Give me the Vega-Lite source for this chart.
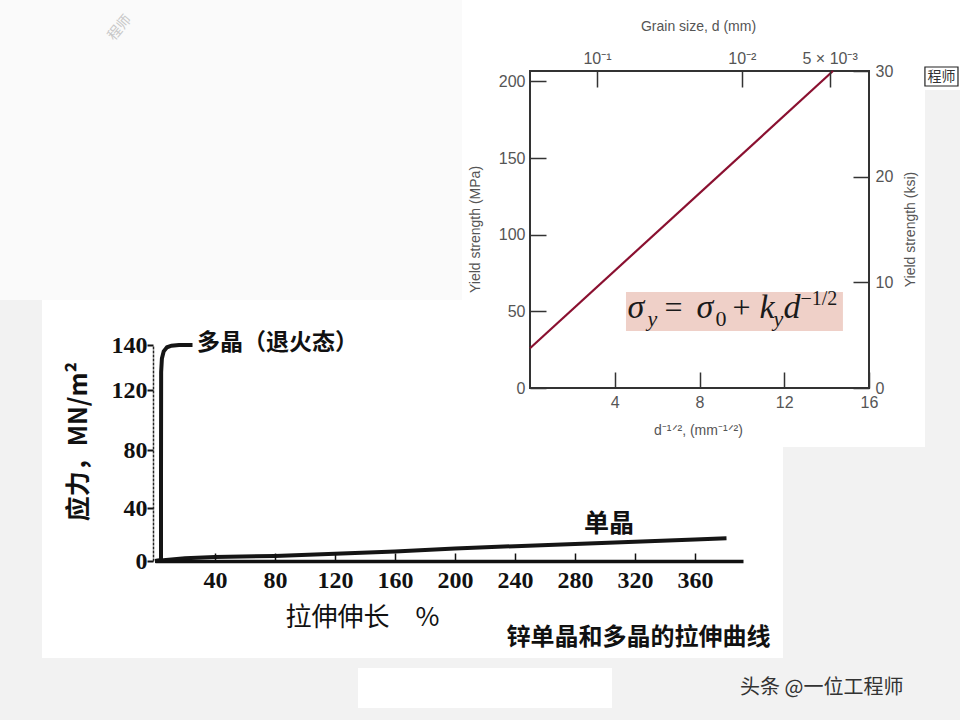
{
  "$schema": "https://vega.github.io/schema/vega-lite/v6.json",
  "width": 960,
  "height": 720,
  "autosize": {"type": "none"},
  "padding": 0,
  "background": "#f2f2f2",
  "data": {"values": [{}]},
  "config": {
    "view": {"stroke": null},
    "axis": {"grid": false, "labelOverlap": false, "labelFlush": false}
  },
  "resolve": {
    "scale": {"x": "independent", "y": "independent"},
    "axis": {"x": "independent", "y": "independent"}
  },
  "layer": [
    {
      "mark": {"type": "rect", "color": "#fafafa"},
      "encoding": {
        "x": {"datum": -103.33, "type": "quantitative", "scale": {"domain": [0, 392], "range": [155, 743], "nice": false, "zero": false}, "axis": null},
        "x2": {"datum": 204.67},
        "y": {"datum": 293.33, "type": "quantitative", "scale": {"domain": [0, 40, 80, 120, 140], "range": [561, 508, 450, 390, 345], "nice": false, "zero": false}, "axis": null},
        "y2": {"datum": 160}
      }
    },
    {
      "mark": {"type": "rect", "color": "#ffffff"},
      "encoding": {
        "x": {"datum": 18.64, "type": "quantitative", "scale": {"domain": [0, 16], "range": [530, 869], "nice": false, "zero": false}, "axis": null},
        "x2": {"datum": 20.3},
        "y": {"datum": 253.17, "type": "quantitative", "scale": {"domain": [0, 206.84], "range": [388, 71], "nice": false, "zero": false}, "axis": null},
        "y2": {"datum": 194.44}
      }
    },
    {
      "mark": {"type": "rect", "color": "#ffffff"},
      "encoding": {
        "x": {"datum": -75.33, "type": "quantitative", "scale": {"domain": [0, 392], "range": [155, 743], "nice": false, "zero": false}, "axis": null},
        "x2": {"datum": 418.67},
        "y": {"datum": 160, "type": "quantitative", "scale": {"domain": [0, 40, 80, 120, 140], "range": [561, 508, 450, 390, 345], "nice": false, "zero": false}, "axis": null},
        "y2": {"datum": -73.2}
      }
    },
    {
      "mark": {"type": "rect", "color": "#ffffff"},
      "encoding": {
        "x": {"datum": -3.21, "type": "quantitative", "scale": {"domain": [0, 16], "range": [530, 869], "nice": false, "zero": false}, "axis": null},
        "x2": {"datum": 18.64},
        "y": {"datum": 253.17, "type": "quantitative", "scale": {"domain": [0, 206.84], "range": [388, 71], "nice": false, "zero": false}, "axis": null},
        "y2": {"datum": -38.5}
      }
    },
    {
      "mark": {"type": "rect", "color": "#ffffff"},
      "encoding": {
        "x": {"datum": 135.33, "type": "quantitative", "scale": {"domain": [0, 392], "range": [155, 743], "nice": false, "zero": false}, "axis": null},
        "x2": {"datum": 304.67},
        "y": {"datum": -80.75, "type": "quantitative", "scale": {"domain": [0, 40, 80, 120, 140], "range": [561, 508, 450, 390, 345], "nice": false, "zero": false}, "axis": null},
        "y2": {"datum": -110.94}
      }
    },
    {
      "mark": {"type": "text", "align": "left", "baseline": "middle", "font": "Noto Sans CJK SC", "fontSize": 20, "color": "#333333"},
      "encoding": {
        "x": {"datum": 390, "type": "quantitative", "scale": {"domain": [0, 392], "range": [155, 743], "nice": false, "zero": false}, "axis": null},
        "y": {"datum": -95.85, "type": "quantitative", "scale": {"domain": [0, 40, 80, 120, 140], "range": [561, 508, 450, 390, 345], "nice": false, "zero": false}, "axis": null},
        "text": {"value": "头条 @一位工程师"}
      }
    },
    {
      "mark": {"type": "rect", "fill": null, "stroke": "#222222", "strokeWidth": 1.2},
      "encoding": {
        "x": {"datum": 18.64, "type": "quantitative", "scale": {"domain": [0, 16], "range": [530, 869], "nice": false, "zero": false}, "axis": null},
        "x2": {"datum": 20.2},
        "y": {"datum": 209.45, "type": "quantitative", "scale": {"domain": [0, 206.84], "range": [388, 71], "nice": false, "zero": false}, "axis": null},
        "y2": {"datum": 197.06}
      }
    },
    {
      "mark": {"type": "text", "align": "center", "baseline": "middle", "font": "Noto Sans CJK SC", "fontSize": 14, "color": "#333333"},
      "encoding": {
        "x": {"datum": 19.42, "type": "quantitative", "scale": {"domain": [0, 16], "range": [530, 869], "nice": false, "zero": false}, "axis": null},
        "y": {"datum": 203.25, "type": "quantitative", "scale": {"domain": [0, 206.84], "range": [388, 71], "nice": false, "zero": false}, "axis": null},
        "text": {"value": "程师"}
      }
    },
    {
      "mark": {"type": "text", "align": "center", "baseline": "middle", "angle": 310, "font": "Noto Sans CJK SC", "fontSize": 14, "color": "#c8c8c8"},
      "encoding": {
        "x": {"datum": -23.33, "type": "quantitative", "scale": {"domain": [0, 392], "range": [155, 743], "nice": false, "zero": false}, "axis": null},
        "y": {"datum": 280.9, "type": "quantitative", "scale": {"domain": [0, 40, 80, 120, 140], "range": [561, 508, 450, 390, 345], "nice": false, "zero": false}, "axis": null},
        "text": {"value": "程师"}
      }
    },
    {
      "data": {"values": [
        {"elongation_pct": 0, "stress_mpa": 0},
        {"elongation_pct": 20, "stress_mpa": 2},
        {"elongation_pct": 40, "stress_mpa": 3},
        {"elongation_pct": 80, "stress_mpa": 3.8},
        {"elongation_pct": 120, "stress_mpa": 5.5},
        {"elongation_pct": 160, "stress_mpa": 7.2},
        {"elongation_pct": 200, "stress_mpa": 9.5},
        {"elongation_pct": 240, "stress_mpa": 11.2},
        {"elongation_pct": 280, "stress_mpa": 12.8},
        {"elongation_pct": 320, "stress_mpa": 14.6},
        {"elongation_pct": 360, "stress_mpa": 16.3},
        {"elongation_pct": 381, "stress_mpa": 17.1}
      ]},
      "mark": {"type": "line", "color": "#151515", "strokeWidth": 4},
      "encoding": {
        "x": {
          "field": "elongation_pct", "type": "quantitative",
          "scale": {"domain": [0, 392], "range": [155, 743], "nice": false, "zero": false},
          "axis": {
            "orient": "bottom", "offset": -159, "zindex": 1,
            "values": [40, 80, 120, 160, 200, 240, 280, 320, 360],
            "domainColor": "#111111", "domainWidth": 3.5,
            "tickColor": "#111111", "tickWidth": 1.5, "tickSize": -8,
            "labelPadding": 15, "labelFont": "Liberation Serif", "labelFontWeight": "bold", "labelFontSize": 24, "labelColor": "#111111",
            "title": "拉伸伸长　%", "titleFont": "Noto Sans CJK SC", "titleFontWeight": "normal", "titleFontSize": 26, "titleColor": "#111111",
            "titleX": 362, "titleY": 56, "titleBaseline": "middle", "titleAlign": "center"
          }
        },
        "y": {
          "field": "stress_mpa", "type": "quantitative",
          "scale": {"domain": [0, 40, 80, 120, 140], "range": [561, 508, 450, 390, 345], "nice": false, "zero": false},
          "axis": {
            "orient": "left", "offset": -153, "zindex": 1,
            "values": [0, 40, 80, 120, 140],
            "domainColor": "#222222", "domainWidth": 1.5, "domainDash": [3, 1],
            "tickColor": "#111111", "tickWidth": 2, "tickSize": 6,
            "labelPadding": 0, "labelFont": "Liberation Serif", "labelFontWeight": "bold", "labelFontSize": 24, "labelColor": "#111111",
            "title": "应力，MN/m²", "titleFont": "Noto Sans CJK SC", "titleFontWeight": "bold", "titleFontSize": 25, "titleColor": "#111111",
            "titleX": -75, "titleY": 441, "titleAngle": 270, "titleBaseline": "middle", "titleAlign": "center"
          }
        }
      }
    },
    {
      "data": {"values": [
        {"elongation_pct": 0, "stress_mpa": 0},
        {"elongation_pct": 4, "stress_mpa": 0.5},
        {"elongation_pct": 4, "stress_mpa": 60},
        {"elongation_pct": 4.1, "stress_mpa": 128},
        {"elongation_pct": 4.6, "stress_mpa": 134},
        {"elongation_pct": 5.8, "stress_mpa": 137.2},
        {"elongation_pct": 8, "stress_mpa": 139},
        {"elongation_pct": 11, "stress_mpa": 139.7},
        {"elongation_pct": 16, "stress_mpa": 140},
        {"elongation_pct": 25, "stress_mpa": 140}
      ]},
      "mark": {"type": "line", "color": "#151515", "strokeWidth": 4},
      "encoding": {
        "x": {"field": "elongation_pct", "type": "quantitative", "scale": {"domain": [0, 392], "range": [155, 743], "nice": false, "zero": false}, "axis": null},
        "y": {"field": "stress_mpa", "type": "quantitative", "scale": {"domain": [0, 40, 80, 120, 140], "range": [561, 508, 450, 390, 345], "nice": false, "zero": false}, "axis": null}
      }
    },
    {
      "mark": {"type": "text", "align": "center", "baseline": "middle", "font": "Noto Sans CJK SC", "fontWeight": "bold", "fontSize": 25, "color": "#111111"},
      "encoding": {
        "x": {"datum": 302.67, "type": "quantitative", "scale": {"domain": [0, 392], "range": [155, 743], "nice": false, "zero": false}, "axis": null},
        "y": {"datum": 27.9, "type": "quantitative", "scale": {"domain": [0, 40, 80, 120, 140], "range": [561, 508, 450, 390, 345], "nice": false, "zero": false}, "axis": null},
        "text": {"value": "单晶"}
      }
    },
    {
      "mark": {"type": "text", "align": "left", "baseline": "middle", "font": "Noto Sans CJK SC", "fontWeight": "bold", "fontSize": 23, "color": "#111111"},
      "encoding": {
        "x": {"datum": 28, "type": "quantitative", "scale": {"domain": [0, 392], "range": [155, 743], "nice": false, "zero": false}, "axis": null},
        "y": {"datum": 140.9, "type": "quantitative", "scale": {"domain": [0, 40, 80, 120, 140], "range": [561, 508, 450, 390, 345], "nice": false, "zero": false}, "axis": null},
        "text": {"value": "多晶（退火态）"}
      }
    },
    {
      "mark": {"type": "text", "align": "center", "baseline": "middle", "font": "Noto Sans CJK SC", "fontWeight": "bold", "fontSize": 24, "color": "#111111"},
      "encoding": {
        "x": {"datum": 322.33, "type": "quantitative", "scale": {"domain": [0, 392], "range": [155, 743], "nice": false, "zero": false}, "axis": null},
        "y": {"datum": -58.1, "type": "quantitative", "scale": {"domain": [0, 40, 80, 120, 140], "range": [561, 508, 450, 390, 345], "nice": false, "zero": false}, "axis": null},
        "text": {"value": "锌单晶和多晶的拉伸曲线"}
      }
    },
    {
      "mark": {"type": "rect", "fill": null, "stroke": "#333333", "strokeWidth": 2},
      "encoding": {
        "x": {"datum": 0, "type": "quantitative", "scale": {"domain": [0, 16], "range": [530, 869], "nice": false, "zero": false}, "axis": null},
        "x2": {"datum": 16},
        "y": {"datum": 0, "type": "quantitative", "scale": {"domain": [0, 206.84], "range": [388, 71], "nice": false, "zero": false}, "axis": null},
        "y2": {"datum": 206.84}
      }
    },
    {
      "data": {"values": [
        {"d_inv_sqrt": 0, "yield_mpa": 25.9},
        {"d_inv_sqrt": 14.3, "yield_mpa": 206.8}
      ]},
      "mark": {"type": "line", "color": "#8a1030", "strokeWidth": 2.2},
      "encoding": {
        "x": {
          "field": "d_inv_sqrt", "type": "quantitative",
          "scale": {"domain": [0, 16], "range": [530, 869], "nice": false, "zero": false},
          "axis": {
            "orient": "bottom", "offset": -332, "zindex": 1, "values": [4, 8, 12, 16], "domain": false,
            "tickColor": "#333333", "tickWidth": 1.5, "tickSize": -16,
            "labelPadding": 22, "labelFont": "Liberation Sans", "labelFontSize": 16, "labelColor": "#555555",
            "title": "d⁻¹ᐟ², (mm⁻¹ᐟ²)", "titleFont": "Liberation Sans", "titleFontWeight": "normal", "titleFontSize": 14, "titleColor": "#555555",
            "titleX": 698, "titleY": 42, "titleBaseline": "middle", "titleAlign": "center"
          }
        },
        "y": {
          "field": "yield_mpa", "type": "quantitative",
          "scale": {"domain": [0, 206.84], "range": [388, 71], "nice": false, "zero": false},
          "axis": {
            "orient": "left", "offset": -530, "zindex": 1, "values": [0, 50, 100, 150, 200], "domain": false,
            "tickColor": "#333333", "tickWidth": 1.5, "tickSize": -16,
            "labelPadding": 21, "labelFont": "Liberation Sans", "labelFontSize": 16, "labelColor": "#555555",
            "title": "Yield strength (MPa)", "titleFont": "Liberation Sans", "titleFontWeight": "normal", "titleFontSize": 14, "titleColor": "#555555",
            "titleX": -55, "titleY": 229, "titleAngle": 270, "titleBaseline": "middle", "titleAlign": "center"
          }
        }
      }
    },
    {
      "mark": {"type": "rule", "strokeOpacity": 0},
      "encoding": {
        "x": {
          "datum": 0.1, "type": "quantitative",
          "scale": {"type": "pow", "exponent": -0.5, "domain": [1, 0.00390625], "range": [551.1875, 869], "nice": false, "zero": false},
          "axis": {
            "orient": "top", "offset": -71, "zindex": 1, "values": [0.1, 0.01, 0.005], "domain": false,
            "labelExpr": "datum.value > 0.05 ? '10⁻¹' : datum.value > 0.007 ? '10⁻²' : '5 × 10⁻³'",
            "tickColor": "#333333", "tickWidth": 1.5, "tickSize": -16,
            "labelPadding": 21, "labelFont": "Liberation Sans", "labelFontSize": 16, "labelColor": "#555555",
            "title": "Grain size, d (mm)", "titleFont": "Liberation Sans", "titleFontWeight": "normal", "titleFontSize": 14, "titleColor": "#555555",
            "titleX": 698, "titleY": -45, "titleBaseline": "middle", "titleAlign": "center"
          }
        }
      }
    },
    {
      "mark": {"type": "rule", "strokeOpacity": 0},
      "encoding": {
        "y": {
          "datum": 0, "type": "quantitative",
          "scale": {"domain": [0, 30], "range": [388, 71], "nice": false, "zero": false},
          "axis": {
            "orient": "right", "offset": -91, "zindex": 1, "values": [0, 10, 20, 30], "domain": false,
            "tickColor": "#333333", "tickWidth": 1.5, "tickSize": -16,
            "labelPadding": 22, "labelFont": "Liberation Sans", "labelFontSize": 16, "labelColor": "#555555",
            "title": "Yield strength (ksi)", "titleFont": "Liberation Sans", "titleFontWeight": "normal", "titleFontSize": 14, "titleColor": "#555555",
            "titleX": 41, "titleY": 229, "titleAngle": 270, "titleBaseline": "middle", "titleAlign": "center"
          }
        }
      }
    },
    {
      "mark": {"type": "rect", "color": "#efd0c8"},
      "encoding": {
        "x": {"datum": 4.53, "type": "quantitative", "scale": {"domain": [0, 16], "range": [530, 869], "nice": false, "zero": false}, "axis": null},
        "x2": {"datum": 14.77},
        "y": {"datum": 62.64, "type": "quantitative", "scale": {"domain": [0, 206.84], "range": [388, 71], "nice": false, "zero": false}, "axis": null},
        "y2": {"datum": 37.19}
      }
    },
    {
      "mark": {"type": "text", "align": "left", "baseline": "alphabetic", "dx": 0, "dy": 0, "font": "Liberation Serif", "fontStyle": "italic", "fontSize": 34, "color": "#1a1a1a"},
      "encoding": {
        "x": {"datum": 4.6, "type": "quantitative", "scale": {"domain": [0, 16], "range": [530, 869], "nice": false, "zero": false}, "axis": null},
        "y": {"datum": 45.7, "type": "quantitative", "scale": {"domain": [0, 206.84], "range": [388, 71], "nice": false, "zero": false}, "axis": null},
        "text": {"value": "σ"}
      }
    },
    {
      "mark": {"type": "text", "align": "left", "baseline": "alphabetic", "dx": 20, "dy": 8, "font": "Liberation Serif", "fontStyle": "italic", "fontSize": 22, "color": "#1a1a1a"},
      "encoding": {
        "x": {"datum": 4.6, "type": "quantitative", "scale": {"domain": [0, 16], "range": [530, 869], "nice": false, "zero": false}, "axis": null},
        "y": {"datum": 45.7, "type": "quantitative", "scale": {"domain": [0, 206.84], "range": [388, 71], "nice": false, "zero": false}, "axis": null},
        "text": {"value": "y"}
      }
    },
    {
      "mark": {"type": "text", "align": "left", "baseline": "alphabetic", "dx": 37, "dy": 0, "font": "Liberation Serif", "fontSize": 32, "color": "#1a1a1a"},
      "encoding": {
        "x": {"datum": 4.6, "type": "quantitative", "scale": {"domain": [0, 16], "range": [530, 869], "nice": false, "zero": false}, "axis": null},
        "y": {"datum": 45.7, "type": "quantitative", "scale": {"domain": [0, 206.84], "range": [388, 71], "nice": false, "zero": false}, "axis": null},
        "text": {"value": "="}
      }
    },
    {
      "mark": {"type": "text", "align": "left", "baseline": "alphabetic", "dx": 69, "dy": 0, "font": "Liberation Serif", "fontStyle": "italic", "fontSize": 34, "color": "#1a1a1a"},
      "encoding": {
        "x": {"datum": 4.6, "type": "quantitative", "scale": {"domain": [0, 16], "range": [530, 869], "nice": false, "zero": false}, "axis": null},
        "y": {"datum": 45.7, "type": "quantitative", "scale": {"domain": [0, 206.84], "range": [388, 71], "nice": false, "zero": false}, "axis": null},
        "text": {"value": "σ"}
      }
    },
    {
      "mark": {"type": "text", "align": "left", "baseline": "alphabetic", "dx": 88, "dy": 8, "font": "Liberation Serif", "fontSize": 22, "color": "#1a1a1a"},
      "encoding": {
        "x": {"datum": 4.6, "type": "quantitative", "scale": {"domain": [0, 16], "range": [530, 869], "nice": false, "zero": false}, "axis": null},
        "y": {"datum": 45.7, "type": "quantitative", "scale": {"domain": [0, 206.84], "range": [388, 71], "nice": false, "zero": false}, "axis": null},
        "text": {"value": "0"}
      }
    },
    {
      "mark": {"type": "text", "align": "left", "baseline": "alphabetic", "dx": 105, "dy": 0, "font": "Liberation Serif", "fontSize": 32, "color": "#1a1a1a"},
      "encoding": {
        "x": {"datum": 4.6, "type": "quantitative", "scale": {"domain": [0, 16], "range": [530, 869], "nice": false, "zero": false}, "axis": null},
        "y": {"datum": 45.7, "type": "quantitative", "scale": {"domain": [0, 206.84], "range": [388, 71], "nice": false, "zero": false}, "axis": null},
        "text": {"value": "+"}
      }
    },
    {
      "mark": {"type": "text", "align": "left", "baseline": "alphabetic", "dx": 132, "dy": 0, "font": "Liberation Serif", "fontStyle": "italic", "fontSize": 34, "color": "#1a1a1a"},
      "encoding": {
        "x": {"datum": 4.6, "type": "quantitative", "scale": {"domain": [0, 16], "range": [530, 869], "nice": false, "zero": false}, "axis": null},
        "y": {"datum": 45.7, "type": "quantitative", "scale": {"domain": [0, 206.84], "range": [388, 71], "nice": false, "zero": false}, "axis": null},
        "text": {"value": "k"}
      }
    },
    {
      "mark": {"type": "text", "align": "left", "baseline": "alphabetic", "dx": 146, "dy": 8, "font": "Liberation Serif", "fontStyle": "italic", "fontSize": 22, "color": "#1a1a1a"},
      "encoding": {
        "x": {"datum": 4.6, "type": "quantitative", "scale": {"domain": [0, 16], "range": [530, 869], "nice": false, "zero": false}, "axis": null},
        "y": {"datum": 45.7, "type": "quantitative", "scale": {"domain": [0, 206.84], "range": [388, 71], "nice": false, "zero": false}, "axis": null},
        "text": {"value": "y"}
      }
    },
    {
      "mark": {"type": "text", "align": "left", "baseline": "alphabetic", "dx": 156, "dy": 0, "font": "Liberation Serif", "fontStyle": "italic", "fontSize": 34, "color": "#1a1a1a"},
      "encoding": {
        "x": {"datum": 4.6, "type": "quantitative", "scale": {"domain": [0, 16], "range": [530, 869], "nice": false, "zero": false}, "axis": null},
        "y": {"datum": 45.7, "type": "quantitative", "scale": {"domain": [0, 206.84], "range": [388, 71], "nice": false, "zero": false}, "axis": null},
        "text": {"value": "d"}
      }
    },
    {
      "mark": {"type": "text", "align": "left", "baseline": "alphabetic", "dx": 173, "dy": -13, "font": "Liberation Serif", "fontSize": 20, "color": "#1a1a1a"},
      "encoding": {
        "x": {"datum": 4.6, "type": "quantitative", "scale": {"domain": [0, 16], "range": [530, 869], "nice": false, "zero": false}, "axis": null},
        "y": {"datum": 45.7, "type": "quantitative", "scale": {"domain": [0, 206.84], "range": [388, 71], "nice": false, "zero": false}, "axis": null},
        "text": {"value": "−1/2"}
      }
    }
  ]
}
